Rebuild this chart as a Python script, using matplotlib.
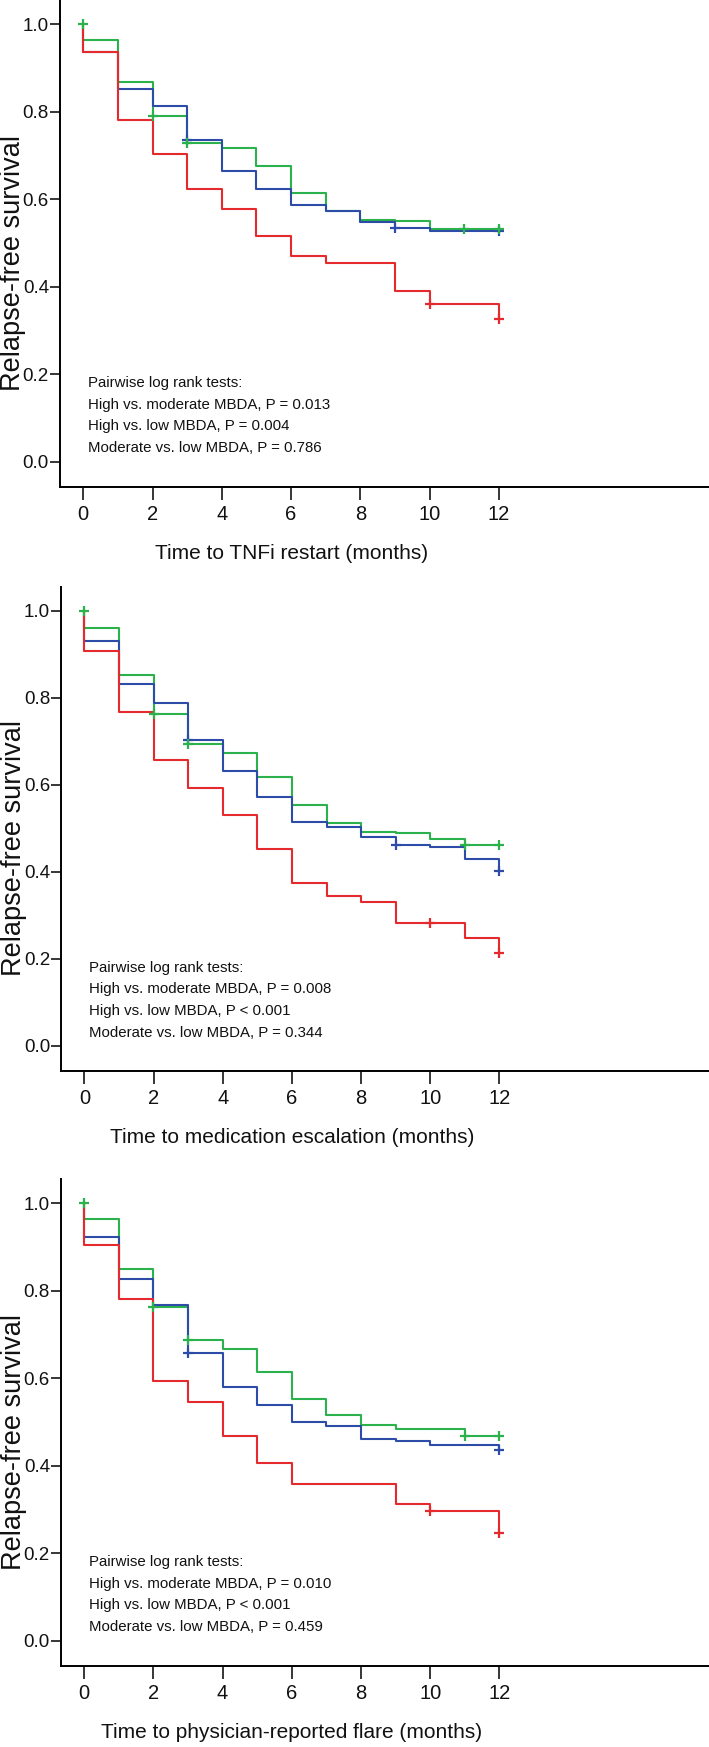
import matplotlib
matplotlib.use("Agg")
import matplotlib.pyplot as plt

plt.rcParams["font.family"] = ["Liberation Sans", "DejaVu Sans"]

# survival after the drop at month 0, 1, ..., 12
months = list(range(13))

tnfi_low = [0.964, 0.868, 0.790, 0.729, 0.716, 0.675, 0.614, 0.573, 0.553, 0.549, 0.532, 0.532, 0.532]
tnfi_mod = [0.937, 0.852, 0.812, 0.736, 0.665, 0.624, 0.586, 0.573, 0.547, 0.534, 0.527, 0.527, 0.527]
tnfi_high = [0.937, 0.781, 0.704, 0.624, 0.578, 0.515, 0.469, 0.453, 0.453, 0.391, 0.360, 0.360, 0.326]

med_low = [0.959, 0.853, 0.762, 0.693, 0.674, 0.618, 0.553, 0.511, 0.492, 0.488, 0.475, 0.461, 0.461]
med_mod = [0.930, 0.832, 0.787, 0.703, 0.631, 0.572, 0.514, 0.502, 0.481, 0.462, 0.456, 0.429, 0.401]
med_high = [0.907, 0.766, 0.656, 0.593, 0.531, 0.453, 0.375, 0.345, 0.330, 0.282, 0.282, 0.247, 0.213]

flare_low = [0.964, 0.850, 0.762, 0.688, 0.668, 0.614, 0.553, 0.516, 0.493, 0.484, 0.484, 0.469, 0.469]
flare_mod = [0.923, 0.827, 0.768, 0.659, 0.580, 0.540, 0.501, 0.490, 0.462, 0.456, 0.448, 0.448, 0.435]
flare_high = [0.905, 0.781, 0.595, 0.547, 0.469, 0.406, 0.359, 0.359, 0.359, 0.313, 0.297, 0.297, 0.246]

# months with a censoring mark
cens_tnfi = {"low": [0, 2, 3, 11, 12], "mod": [3, 9, 12], "high": [10, 12]}
cens_med = {"low": [0, 2, 3, 11, 12], "mod": [3, 9, 12], "high": [10, 12]}
cens_flare = {"low": [0, 2, 3, 11, 12], "mod": [3, 12], "high": [10, 12]}

xlabels = ["Time to TNFi restart (months)",
           "Time to medication escalation (months)",
           "Time to physician-reported flare (months)"]

pvals = [["P = 0.013", "P = 0.004", "P = 0.786"],
         ["P = 0.008", "P < 0.001", "P = 0.344"],
         ["P = 0.010", "P < 0.001", "P = 0.459"]]

colors = {"low": "#2bb24c", "mod": "#2c4ca8", "high": "#e52a2e"}

panels = [
    ({"low": tnfi_low, "mod": tnfi_mod, "high": tnfi_high}, cens_tnfi),
    ({"low": med_low, "mod": med_mod, "high": med_high}, cens_med),
    ({"low": flare_low, "mod": flare_mod, "high": flare_high}, cens_flare),
]

# axes boxes in pixels: (left spine x, top y, bottom y)
boxes = [(60, 0, 486.7), (61.3, 586.7, 1070.7), (61, 1179.3, 1665.7)]

W, H = 709, 1747
fig = plt.figure(figsize=(W / 100, H / 100), dpi=100)

for i, (curves, cens) in enumerate(panels):
    left, top, bottom = boxes[i]
    ax = fig.add_axes([left / W, 1 - bottom / H, 1 - left / W, (bottom - top) / H])

    for key in ["low", "mod", "high"]:
        s = curves[key]
        ax.step([0] + months, [1.0] + s, where="post", color=colors[key], lw=1.5, zorder=3)
    for key in ["mod", "high", "low"]:
        s = curves[key]
        ys = [1.0 if t == 0 else s[t] for t in cens[key]]
        ax.plot(cens[key], ys, ls="none", marker="+", ms=7, mew=1.6,
                color=colors[key], zorder=4)

    ax.set_xlim(-0.67, 18.06)
    ax.set_ylim(-0.057, 1.055)
    ax.set_xticks(range(0, 13, 2))
    ax.set_yticks([0.0, 0.2, 0.4, 0.6, 0.8, 1.0])
    ax.set_yticklabels(["0.0", "0.2", "0.4", "0.6", "0.8", "1.0"])
    for sp in ["top", "right"]:
        ax.spines[sp].set_visible(False)
    for sp in ["left", "bottom"]:
        ax.spines[sp].set_linewidth(1.4)
    ax.tick_params(axis="y", direction="out", length=7, width=1.1, pad=1, labelsize=13.5,
                   labelcolor="#111111")
    ax.tick_params(axis="x", direction="out", length=9, width=1.1, pad=4, labelsize=14.5,
                   labelcolor="#111111")

    ax.annotate(xlabels[i], xy=(6, 0), xycoords=("data", "axes fraction"),
                xytext=(0, -48), textcoords="offset points", ha="center", va="center",
                fontsize=15, color="#111111")
    ax.text(-0.073, 0.455, "Relapse-free survival", transform=ax.get_yaxis_transform(),
            rotation=90, ha="center", va="center", fontsize=19.5, color="#111111")

    lines = ["Pairwise log rank tests:",
             "High vs. moderate MBDA, " + pvals[i][0],
             "High vs. low MBDA, " + pvals[i][1],
             "Moderate vs. low MBDA, " + pvals[i][2]]
    for j, txt in enumerate(lines):
        ax.annotate(txt, xy=(0.14, 0.18), xycoords="data",
                    xytext=(0, -15.6 * j), textcoords="offset points",
                    ha="left", va="center", fontsize=10.8, color="#111111")

fig.savefig("out.png", dpi=100)
